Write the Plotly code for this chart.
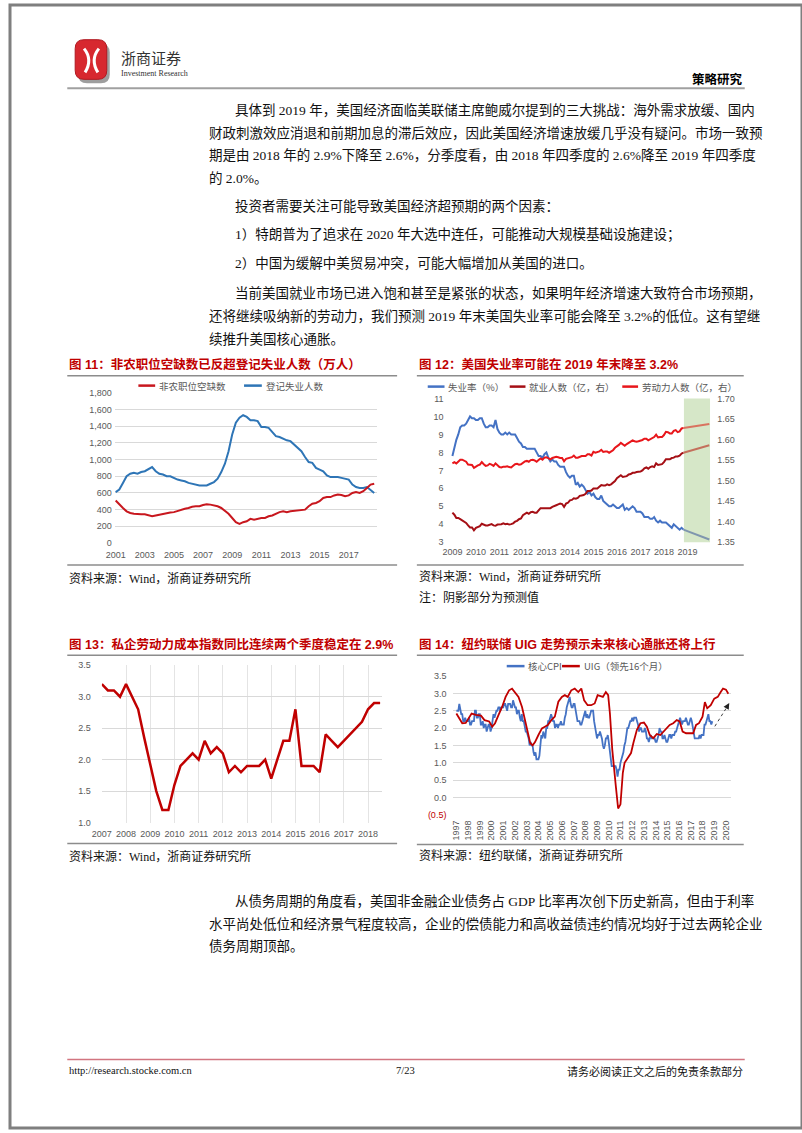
import plotly.graph_objects as go

W, H = 802, 1133
def PX(x): return x / W
def PY(y): return 1 - y / H

# ---------------- data ----------------
# Chart 11 (quarterly, 2001Q1 - 2018Q4), 万人
ch11_x = [2001 + i / 4 for i in range(72)]
ch11_openings = [510, 460, 420, 380, 360, 350, 345, 345, 345, 330, 320, 330,
                 340, 345, 360, 365, 370, 385, 400, 410, 420, 435, 440, 440,
                 455, 465, 460, 450, 440, 420, 390, 350, 300, 250, 230, 250,
                 260, 290, 280, 290, 300, 300, 320, 330, 350, 370, 380, 370,
                 380, 385, 390, 390, 400, 440, 470, 480, 500, 540, 550, 550,
                 570, 580, 575, 560, 570, 600, 610, 600, 620, 660, 700, 710]
ch11_unemployed = [610, 640, 720, 800, 830, 840, 830, 850, 860, 890, 910, 860,
                   830, 820, 800, 800, 780, 760, 750, 740, 720, 710, 700, 690,
                   690, 690, 710, 730, 770, 850, 950, 1100, 1300, 1440, 1500, 1530,
                   1510, 1470, 1470, 1460, 1390, 1390, 1380, 1330, 1280, 1270, 1250, 1230,
                   1220, 1180, 1140, 1100, 1030, 970, 960, 900, 880, 860, 810, 790,
                   790, 790, 780, 770, 760, 700, 670, 660, 660, 670, 630, 600]
ch11_ticks = [2001, 2003, 2005, 2007, 2009, 2011, 2013, 2015, 2017]

# Chart 12 (monthly, Jan 2009 - Nov 2018)
ch12_x = [2009 + i / 12 for i in range(119)]
ch12_unrate = [7.8, 8.3, 8.7, 9.0, 9.4, 9.5, 9.5, 9.6, 9.8, 10.0, 9.9, 9.9,
               9.8, 9.8, 9.9, 9.9, 9.6, 9.4, 9.4, 9.5, 9.5, 9.4, 9.8, 9.3,
               9.1, 9.0, 9.0, 9.1, 9.0, 9.1, 9.0, 9.0, 9.0, 8.8, 8.6, 8.5,
               8.3, 8.3, 8.2, 8.2, 8.2, 8.2, 8.2, 8.0, 7.8, 7.8, 7.7, 7.9,
               8.0, 7.7, 7.5, 7.6, 7.5, 7.5, 7.3, 7.2, 7.2, 7.2, 6.9, 6.7,
               6.6, 6.7, 6.7, 6.2, 6.3, 6.1, 6.2, 6.1, 5.9, 5.7, 5.8, 5.6,
               5.7, 5.5, 5.4, 5.4, 5.6, 5.3, 5.2, 5.1, 5.0, 5.0, 5.1, 5.0,
               4.9, 4.9, 5.0, 5.1, 4.8, 4.9, 4.8, 4.9, 5.0, 4.9, 4.7, 4.7,
               4.7, 4.6, 4.4, 4.4, 4.4, 4.3, 4.3, 4.4, 4.2, 4.1, 4.2, 4.1,
               4.1, 4.1, 4.0, 3.9, 3.8, 4.0, 3.9, 3.8, 3.7, 3.8, 3.7]
ch12_employed = [1.422, 1.417, 1.409, 1.409, 1.406, 1.403, 1.400, 1.397, 1.391, 1.386, 1.386, 1.379,
                 1.385, 1.387, 1.389, 1.395, 1.392, 1.391, 1.391, 1.393, 1.394, 1.391, 1.390, 1.393,
                 1.393, 1.394, 1.396, 1.394, 1.395, 1.393, 1.394, 1.396, 1.400, 1.402, 1.406, 1.408,
                 1.416, 1.420, 1.422, 1.419, 1.423, 1.424, 1.422, 1.422, 1.429, 1.433, 1.433, 1.433,
                 1.433, 1.434, 1.433, 1.436, 1.439, 1.440, 1.442, 1.444, 1.443, 1.436, 1.444, 1.446,
                 1.452, 1.453, 1.457, 1.456, 1.458, 1.463, 1.464, 1.465, 1.468, 1.475, 1.475, 1.476,
                 1.481, 1.481, 1.481, 1.485, 1.489, 1.488, 1.488, 1.491, 1.489, 1.491, 1.494, 1.499,
                 1.506, 1.510, 1.513, 1.509, 1.510, 1.511, 1.515, 1.516, 1.519, 1.519, 1.521, 1.521,
                 1.522, 1.525, 1.530, 1.532, 1.529, 1.533, 1.535, 1.533, 1.542, 1.538, 1.539, 1.540,
                 1.545, 1.552, 1.552, 1.552, 1.555, 1.556, 1.559, 1.559, 1.561, 1.566, 1.568]
ch12_labor = [1.542, 1.545, 1.542, 1.547, 1.551, 1.551, 1.549, 1.546, 1.539, 1.538, 1.538, 1.531,
              1.535, 1.537, 1.539, 1.545, 1.540, 1.536, 1.537, 1.541, 1.539, 1.536, 1.542, 1.537,
              1.533, 1.532, 1.534, 1.534, 1.535, 1.533, 1.532, 1.536, 1.540, 1.541, 1.539, 1.540,
              1.544, 1.547, 1.548, 1.546, 1.550, 1.551, 1.549, 1.546, 1.550, 1.554, 1.551, 1.556,
              1.557, 1.555, 1.552, 1.555, 1.557, 1.558, 1.557, 1.555, 1.555, 1.547, 1.553, 1.554,
              1.555, 1.557, 1.561, 1.556, 1.556, 1.558, 1.560, 1.560, 1.560, 1.564, 1.564, 1.561,
              1.570, 1.568, 1.569, 1.571, 1.575, 1.570, 1.571, 1.571, 1.568, 1.571, 1.574, 1.580,
              1.583, 1.587, 1.592, 1.589, 1.585, 1.589, 1.592, 1.594, 1.598, 1.596, 1.595, 1.596,
              1.597, 1.599, 1.602, 1.602, 1.598, 1.601, 1.605, 1.606, 1.612, 1.605, 1.606, 1.606,
              1.611, 1.619, 1.618, 1.615, 1.615, 1.621, 1.623, 1.618, 1.620, 1.627, 1.628]
ch12_fc_x = [2018.83, 2019.93]
ch12_fc_unrate = [3.7, 3.15]
ch12_fc_employed = [1.568, 1.586]
ch12_fc_labor = [1.628, 1.638]
ch12_ticks = [2009, 2010, 2011, 2012, 2013, 2014, 2015, 2016, 2017, 2018, 2019]
ch12_right_ticks = [1.35, 1.40, 1.45, 1.50, 1.55, 1.60, 1.65, 1.70]

# Chart 13 (quarterly, 2007Q1 - 2018Q3)
ch13_x = [2007 + i / 4 for i in range(47)]
ch13_eci = [3.2, 3.1, 3.1, 3.0, 3.2, 3.0, 2.8, 2.35, 1.9, 1.5, 1.2, 1.2,
            1.6, 1.9, 2.0, 2.1, 2.0, 2.3, 2.1, 2.2, 2.1, 1.8, 1.9, 1.8,
            1.9, 1.9, 1.9, 2.0, 1.7, 2.0, 2.3, 2.3, 2.8, 1.9, 1.9, 1.9,
            1.8, 2.4, 2.3, 2.2, 2.3, 2.4, 2.5, 2.6, 2.8, 2.9, 2.9]
ch13_ticks = list(range(2007, 2019))
ch13_yticks = [1.0, 1.5, 2.0, 2.5, 3.0, 3.5]

# Chart 14 core CPI (monthly Jan 1997 - Nov 2018) and UIG (led 16 months)
ch14_cpi = [2.5, 2.5, 2.5, 2.7, 2.5, 2.4, 2.4, 2.2, 2.2, 2.3, 2.2, 2.2,
            2.2, 2.3, 2.1, 2.1, 2.2, 2.2, 2.2, 2.5, 2.5, 2.3, 2.3, 2.4,
            2.4, 2.1, 2.1, 2.2, 2.0, 2.1, 2.1, 1.9, 2.0, 2.1, 2.1, 1.9,
            2.0, 2.2, 2.4, 2.3, 2.4, 2.5, 2.5, 2.6, 2.6, 2.5, 2.6, 2.6,
            2.6, 2.7, 2.7, 2.6, 2.5, 2.7, 2.7, 2.7, 2.6, 2.6, 2.8, 2.7,
            2.6, 2.6, 2.4, 2.5, 2.5, 2.3, 2.2, 2.4, 2.2, 2.2, 2.0, 1.9,
            1.9, 1.8, 1.7, 1.5, 1.6, 1.5, 1.5, 1.3, 1.2, 1.3, 1.1, 1.1,
            1.1, 1.2, 1.6, 1.8, 1.7, 1.9, 1.8, 1.7, 2.0, 2.0, 2.2, 2.2,
            2.3, 2.4, 2.3, 2.2, 2.2, 2.0, 2.1, 2.1, 2.0, 2.1, 2.1, 2.2,
            2.1, 2.1, 2.1, 2.3, 2.4, 2.6, 2.7, 2.8, 2.9, 2.7, 2.6, 2.6,
            2.7, 2.7, 2.5, 2.3, 2.2, 2.2, 2.2, 2.1, 2.1, 2.2, 2.3, 2.4,
            2.5, 2.3, 2.4, 2.3, 2.3, 2.4, 2.5, 2.5, 2.5, 2.2, 2.0, 1.8,
            1.7, 1.8, 1.8, 1.9, 1.8, 1.7, 1.5, 1.4, 1.5, 1.7, 1.7, 1.8,
            1.6, 1.3, 1.1, 0.9, 0.9, 0.9, 0.9, 0.9, 0.8, 0.6, 0.8, 0.8,
            1.0, 1.1, 1.2, 1.3, 1.5, 1.6, 1.8, 2.0, 2.0, 2.1, 2.2, 2.2,
            2.3, 2.2, 2.3, 2.3, 2.3, 2.2, 2.1, 1.9, 2.0, 2.0, 1.9, 1.9,
            1.9, 2.0, 1.9, 1.7, 1.7, 1.6, 1.7, 1.8, 1.7, 1.7, 1.7, 1.7,
            1.6, 1.6, 1.7, 1.8, 2.0, 1.9, 1.9, 1.7, 1.7, 1.8, 1.7, 1.6,
            1.6, 1.7, 1.8, 1.8, 1.7, 1.8, 1.8, 1.8, 1.9, 1.9, 2.0, 2.1,
            2.2, 2.3, 2.2, 2.1, 2.2, 2.2, 2.2, 2.3, 2.2, 2.1, 2.1, 2.2,
            2.3, 2.2, 2.0, 1.9, 1.7, 1.7, 1.7, 1.7, 1.7, 1.8, 1.7, 1.8,
            1.8, 1.8, 2.1, 2.1, 2.2, 2.3, 2.4, 2.2, 2.2, 2.1, 2.2]
ch14_cpi_x = [1997 + i / 12 for i in range(len(ch14_cpi))]
ch14_uig_x = [1997.0, 1997.3, 1997.5, 1997.8, 1998.1, 1998.3, 1998.66, 1999.1, 1999.4, 1999.8,
              2000.06, 2000.3, 2000.6, 2000.9, 2001.2, 2001.5, 2001.75, 2002.0, 2002.3, 2002.6,
              2002.87, 2003.07, 2003.3, 2003.5, 2003.7, 2004.0, 2004.3, 2004.55, 2004.8, 2005.1,
              2005.4, 2005.7, 2006.0, 2006.25, 2006.5, 2006.8, 2007.1, 2007.4, 2007.66, 2007.9,
              2008.2, 2008.5, 2008.8, 2009.05, 2009.5, 2009.75, 2009.95, 2010.1, 2010.3, 2010.6,
              2010.8, 2011.0, 2011.2, 2011.35, 2011.6, 2011.9, 2012.1, 2012.4, 2012.7, 2013.0,
              2013.25, 2013.5, 2013.8, 2014.1, 2014.4, 2014.7, 2014.9, 2015.2, 2015.5, 2015.8,
              2016.05, 2016.3, 2016.6, 2016.9, 2017.2, 2017.45, 2017.7, 2018.0, 2018.2, 2018.4,
              2018.7, 2019.0, 2019.3, 2019.55, 2019.75, 2020.0, 2020.2]
ch14_uig = [2.42, 2.23, 2.14, 2.15, 2.33, 2.42, 2.38, 2.36, 2.23, 2.19,
            2.04, 2.14, 2.38, 2.61, 2.90, 3.09, 3.14, 3.04, 2.90, 2.61,
            2.23, 1.95, 1.57, 1.50, 1.59, 1.80, 1.99, 2.04, 2.09, 2.23,
            2.33, 2.76, 2.90, 2.95, 2.90, 3.09, 3.14, 3.04, 3.14, 2.80,
            2.66, 2.66, 2.71, 2.95, 2.90, 3.04, 2.95, 2.42, 1.38, 0.33,
            -0.32, -0.20, 0.71, 1.00, 1.14, 1.28, 1.57, 1.95, 2.14, 2.16,
            2.04, 1.80, 1.71, 1.83, 1.80, 1.90, 1.99, 2.09, 2.14, 2.23,
            2.19, 1.90, 1.85, 1.85, 1.85, 2.09, 2.14, 2.33, 2.75, 2.57,
            2.66, 2.85, 2.90, 3.04, 3.14, 3.11, 2.99]
ch14_ticks = list(range(1997, 2021))
ch14_yticks = [-0.5, 0.0, 0.5, 1.0, 1.5, 2.0, 2.5, 3.0, 3.5]

# ---------------- style ----------------
RED = "#C00000"
BLUE = "#2E75B6"
BLUE2 = "#4472C4"
DRED = "#A50F15"
BRED = "#E8161B"
GRID = "#D9D9D9"
TICKC = "#595959"
SANS = "Liberation Sans, Noto Sans CJK SC"
CJK = "Noto Sans CJK SC"
BODY = "Liberation Serif, Noto Sans CJK SC"
tickfont = dict(family=SANS, size=9, color=TICKC)

fig = go.Figure()

# Chart 11
fig.add_trace(go.Scatter(x=ch11_x, y=ch11_unemployed, mode="lines",
                         line=dict(color=BLUE, width=2), xaxis="x", yaxis="y"))
fig.add_trace(go.Scatter(x=ch11_x, y=ch11_openings, mode="lines",
                         line=dict(color="#C8171E", width=2), xaxis="x", yaxis="y"))
# Chart 12
fig.add_trace(go.Scatter(x=ch12_x, y=ch12_unrate, mode="lines",
                         line=dict(color=BLUE2, width=2), xaxis="x2", yaxis="y2"))
fig.add_trace(go.Scatter(x=ch12_fc_x, y=ch12_fc_unrate, mode="lines",
                         line=dict(color="#7F96AE", width=2), xaxis="x2", yaxis="y2"))
fig.add_trace(go.Scatter(x=ch12_x, y=ch12_employed, mode="lines",
                         line=dict(color=DRED, width=2), xaxis="x2", yaxis="y3"))
fig.add_trace(go.Scatter(x=ch12_fc_x, y=ch12_fc_employed, mode="lines",
                         line=dict(color="#C4705C", width=2), xaxis="x2", yaxis="y3"))
fig.add_trace(go.Scatter(x=ch12_x, y=ch12_labor, mode="lines",
                         line=dict(color=BRED, width=2), xaxis="x2", yaxis="y3"))
fig.add_trace(go.Scatter(x=ch12_fc_x, y=ch12_fc_labor, mode="lines",
                         line=dict(color="#D9735F", width=2), xaxis="x2", yaxis="y3"))
# Chart 13
fig.add_trace(go.Scatter(x=ch13_x, y=ch13_eci, mode="lines",
                         line=dict(color=RED, width=2.5), xaxis="x3", yaxis="y4"))
# Chart 14
fig.add_trace(go.Scatter(x=ch14_cpi_x, y=ch14_cpi, mode="lines",
                         line=dict(color=BLUE2, width=1.8), xaxis="x4", yaxis="y5"))
fig.add_trace(go.Scatter(x=ch14_uig_x, y=ch14_uig, mode="lines",
                         line=dict(color=RED, width=1.8), xaxis="x4", yaxis="y5"))

common_x = dict(showgrid=False, zeroline=False, showline=False, ticks="", tickfont=tickfont)
common_y = dict(zeroline=False, showline=False, ticks="", tickfont=tickfont)

fig.update_layout(
    width=W, height=H, margin=dict(l=0, r=0, t=0, b=0),
    paper_bgcolor="white", plot_bgcolor="white", showlegend=False,
    xaxis=dict(common_x, domain=[PX(106), PX(372)], range=[2000.932, 2018.966],
               tickvals=ch11_ticks, ticktext=[str(t) for t in ch11_ticks], anchor="y",
               ticklabelstandoff=5),
    yaxis=dict(common_y, domain=[PY(543), PY(391)], range=[-2, 1802], anchor="x",
               tickvals=list(range(0, 1801, 200)),
               ticktext=[f"{v:,}" for v in range(0, 1801, 200)],
               showgrid=True, gridcolor=GRID, gridwidth=1, ticklabelstandoff=2),
    xaxis2=dict(common_x, domain=[PX(443), PX(709)], range=[2008.79, 2019.966],
                tickvals=ch12_ticks, ticktext=[str(t) for t in ch12_ticks], anchor="y2",
                ticklabelstandoff=3),
    yaxis2=dict(common_y, domain=[PY(542), PY(397)], range=[3, 11], dtick=1, anchor="x2",
                showgrid=False, ticklabelstandoff=3),
    yaxis3=dict(common_y, overlaying="y2", side="right", anchor="x2", range=[1.35, 1.70],
                tickvals=ch12_right_ticks, ticktext=[f"{v:.2f}" for v in ch12_right_ticks],
                showgrid=False, ticklabelstandoff=6),
    xaxis3=dict(common_x, domain=[PX(93), PX(377)], range=[2007, 2018.59],
                tickvals=ch13_ticks, ticktext=[str(t) for t in ch13_ticks], anchor="y4",
                showgrid=True, gridcolor="#E4E4E4", ticklabelstandoff=4),
    yaxis4=dict(common_y, domain=[PY(825), PY(666)], range=[0.998, 3.502], anchor="x3",
                tickvals=ch13_yticks, ticktext=[f"{v:.1f}" for v in ch13_yticks],
                showgrid=True, gridcolor=GRID, ticklabelstandoff=10),
    xaxis4=dict(common_x, domain=[PX(449), PX(730)], range=[1996.747, 2020.42],
                tickvals=ch14_ticks, ticktext=[str(t) for t in ch14_ticks], tickangle=-90,
                anchor="y5", ticklabelstandoff=3),
    yaxis5=dict(common_y, domain=[PY(817), PY(677)], range=[-0.502, 3.502], anchor="x4",
                tickvals=ch14_yticks,
                ticktext=["<span style='color:#C00000'>(0.5)</span>"] + [f"{v:.1f}" for v in ch14_yticks[1:]],
                showgrid=True, gridcolor=GRID, ticklabelstandoff=6),
)

shapes = []
annots = []

def hline(x0, x1, y, color, width, dash="solid"):
    shapes.append(dict(type="line", xref="paper", yref="paper", x0=PX(x0), x1=PX(x1),
                       y0=PY(y), y1=PY(y), line=dict(color=color, width=width, dash=dash)))

def text(x, y, s, size, color="#000000", family=BODY, anchor="left", bold=False):
    if bold:
        s = "<b>" + s + "</b>"
    annots.append(dict(xref="paper", yref="paper", x=PX(x), y=PY(y), text=s, showarrow=False,
                       xanchor=anchor, yanchor="middle",
                       font=dict(family=family, size=size, color=color)))

def rounded(x0, y0, x1, y1, r):
    pts = [
        f"M {PX(x0 + r)},{PY(y0)}", f"L {PX(x1 - r)},{PY(y0)}",
        f"Q {PX(x1)},{PY(y0)} {PX(x1)},{PY(y0 + r)}", f"L {PX(x1)},{PY(y1 - r)}",
        f"Q {PX(x1)},{PY(y1)} {PX(x1 - r)},{PY(y1)}", f"L {PX(x0 + r)},{PY(y1)}",
        f"Q {PX(x0)},{PY(y1)} {PX(x0)},{PY(y1 - r)}", f"L {PX(x0)},{PY(y0 + r)}",
        f"Q {PX(x0)},{PY(y0)} {PX(x0 + r)},{PY(y0)}", "Z"]
    return " ".join(pts)

# page border
shapes.append(dict(type="rect", xref="paper", yref="paper", x0=0, x1=1, y0=0, y1=1,
                   line=dict(color="#7F7F7F", width=3), fillcolor="rgba(0,0,0,0)"))

# header logo
shapes.append(dict(type="path", xref="paper", yref="paper", path=rounded(69, 39, 101, 79, 9),
                   fillcolor="#9E9E9E", line=dict(width=0)))
shapes.append(dict(type="path", xref="paper", yref="paper", path=rounded(66, 35, 98, 75, 9),
                   fillcolor="#D7282F", line=dict(color="#B01820", width=1)))
shapes.append(dict(type="path", xref="paper", yref="paper",
                   path=f"M {PX(75)},{PY(44)} Q {PX(84)},{PY(55)} {PX(76)},{PY(68)}",
                   line=dict(color="white", width=3)))
shapes.append(dict(type="path", xref="paper", yref="paper",
                   path=f"M {PX(90)},{PY(44)} Q {PX(81)},{PY(55)} {PX(89)},{PY(68)}",
                   line=dict(color="white", width=3)))
text(110, 53, "浙商证券", 15, "#333333", CJK)
text(110, 69, "Investment Research", 8, "#333333", "Liberation Serif")
text(744, 74, "策略研究", 12.5, "#000000", CJK, anchor="right", bold=True)
hline(58, 744, 84, "#A0A0A0", 2)

# body text
BS = 13.5
body_lines = [
    (226, 106, "具体到 2019 年，美国经济面临美联储主席鲍威尔提到的三大挑战：海外需求放缓、国内"),
    (199, 129, "财政刺激效应消退和前期加息的滞后效应，因此美国经济增速放缓几乎没有疑问。市场一致预"),
    (199, 152, "期是由 2018 年的 2.9%下降至 2.6%，分季度看，由 2018 年四季度的 2.6%降至 2019 年四季度"),
    (199, 175, "的 2.0%。"),
    (226, 203, "投资者需要关注可能导致美国经济超预期的两个因素："),
    (226, 232, "1）特朗普为了追求在 2020 年大选中连任，可能推动大规模基础设施建设；"),
    (226, 261, "2）中国为缓解中美贸易冲突，可能大幅增加从美国的进口。"),
    (226, 291, "当前美国就业市场已进入饱和甚至是紧张的状态，如果明年经济增速大致符合市场预期，"),
    (199, 314, "还将继续吸纳新的劳动力，我们预测 2019 年末美国失业率可能会降至 3.2%的低位。这有望继"),
    (199, 337, "续推升美国核心通胀。"),
    (226, 904, "从债务周期的角度看，美国非金融企业债务占 GDP 比率再次创下历史新高，但由于利率"),
    (199, 927, "水平尚处低位和经济景气程度较高，企业的偿债能力和高收益债违约情况均好于过去两轮企业"),
    (199, 950, "债务周期顶部。"),
]
for x, y, s in body_lines:
    text(x, y, s, BS, "#111111", BODY)

# chart titles, rules, sources
TF = "Liberation Sans, Noto Sans CJK SC"
text(58, 363, "图 11：非农职位空缺数已反超登记失业人数（万人）", 12.5, RED, TF, bold=True)
text(412, 363, "图 12：美国失业率可能在 2019 年末降至 3.2%", 12.5, RED, TF, bold=True)
text(58, 645, "图 13：私企劳动力成本指数同比连续两个季度稳定在 2.9%", 12.5, RED, TF, bold=True)
text(412, 645, "图 14：纽约联储 UIG 走势预示未来核心通胀还将上行", 12.5, RED, TF, bold=True)
RULE = "#8C8C8C"
hline(58, 392, 374, RULE, 1.5)
hline(412, 743, 374, RULE, 1.5)
hline(58, 392, 565, RULE, 1.5)
hline(412, 743, 565, RULE, 1.5)
hline(58, 392, 656, RULE, 1.5)
hline(412, 743, 656, RULE, 1.5)
hline(58, 392, 846, RULE, 1.5)
hline(412, 743, 847, RULE, 1.5)
text(58, 579, "资料来源：Wind，浙商证券研究所", 12, "#111111", BODY)
text(412, 577, "资料来源：Wind，浙商证券研究所", 12, "#111111", BODY)
text(412, 598, "注：阴影部分为预测值", 12, "#111111", BODY)
text(58, 859, "资料来源：Wind，浙商证券研究所", 12, "#111111", BODY)
text(412, 858, "资料来源：纽约联储，浙商证券研究所", 12, "#111111", BODY)

# legends
LF = 9.5
hline(130, 147, 384, "#C8171E", 2.5)
text(149, 384, "非农职位空缺数", LF, TICKC, CJK)
hline(237, 255, 384, BLUE, 2.5)
text(257, 384, "登记失业人数", LF, TICKC, CJK)

hline(423, 440, 385, BLUE2, 2.5)
text(442, 385, "失业率（%）", LF, TICKC, CJK)
hline(506, 522, 385, DRED, 2.5)
text(524, 385, "就业人数（亿，右）", LF, TICKC, CJK)
hline(620, 636, 385, BRED, 2.5)
text(638, 385, "劳动力人数（亿，右）", LF, TICKC, CJK)

hline(503, 521, 667, BLUE2, 2.5)
text(523, 667, "核心CPI", LF, TICKC, CJK)
hline(559, 577, 667, RED, 2.5)
text(579, 667, "UIG（领先16个月）", LF, TICKC, CJK)

# forecast shading (chart 12)
shapes.append(dict(type="rect", xref="x2", yref="y2 domain", x0=2018.85, x1=2019.966,
                   y0=0, y1=1, fillcolor="#D6E7C8", line=dict(width=0), layer="below"))

# dashed arrow (chart 14)
shapes.append(dict(type="line", xref="x4", yref="y5", x0=2019.05, y0=2.05, x1=2020.18, y1=2.66,
                   line=dict(color="#404040", width=1, dash="dot")))
annots.append(dict(xref="x4", yref="y5", x=2020.28, y=2.72, axref="x4", ayref="y5",
                   ax=2020.12, ay=2.63, showarrow=True, arrowhead=2, arrowsize=1,
                   arrowwidth=1.2, arrowcolor="#222222", text=""))

# footer
hline(58, 744, 1064, "#D27580", 1.5)
text(58, 1075, "http://research.stocke.com.cn", 10.5, "#111111", "Liberation Serif")
text(400, 1075, "7/23", 10.5, "#111111", "Liberation Serif", anchor="center")
text(744, 1075, "请务必阅读正文之后的免责条款部分", 11, "#111111", CJK, anchor="right")

fig.update_layout(shapes=shapes, annotations=annots)
fig.write_html("out.html")
